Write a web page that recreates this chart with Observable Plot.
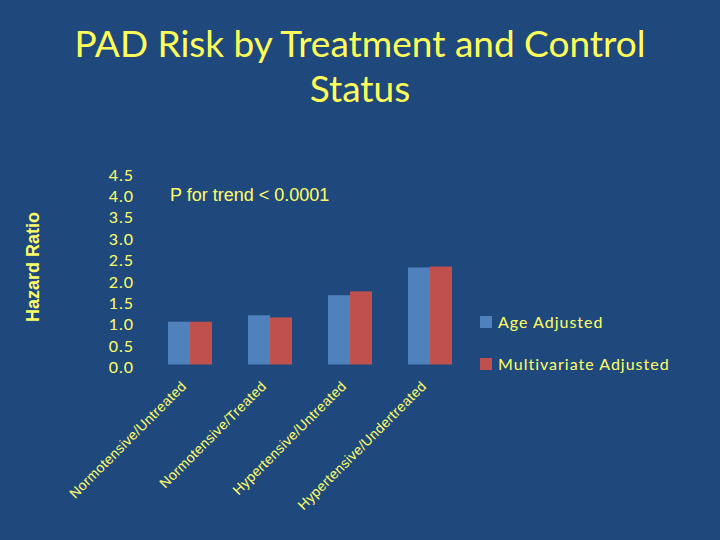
<!DOCTYPE html>
<html>
<head>
<meta charset="utf-8">
<script src="https://cdn.jsdelivr.net/npm/d3@7"></script>
<script src="https://cdn.jsdelivr.net/npm/@observablehq/plot@0.6"></script>
<style>
  html, body { margin: 0; padding: 0; background: #1F497D; }
  #wrap { position: relative; width: 720px; height: 540px; background: #1F497D; overflow: hidden; }
  #title { height: 130px; box-sizing: border-box; padding-top: 20px; text-align: center;
           color: #FFFF5A; font-family: Lato, "Open Sans", sans-serif; font-size: 37px; line-height: 45px; }
  #chart svg { display: block; }
  #chart g[aria-label="fx-axis tick label"] { font-family: Arial, "Liberation Sans", sans-serif; font-size: 14px; letter-spacing: 0.3px; }
  #chart g[aria-label="y-axis tick label"] { font-family: Lato, sans-serif; font-size: 16px; letter-spacing: 1px; }
  .abs { position: absolute; color: #FFFF66; white-space: nowrap; }
  #ptrend { left: 170px; top: 185px; font-family: Arial, "Liberation Sans", sans-serif; font-size: 18px; }
  #ylab { left: 33px; top: 267px; transform: translate(-50%, -50%) rotate(-90deg);
          font-family: Arial, "Liberation Sans", sans-serif; font-weight: bold; font-size: 18px; }
  .leg { position: absolute; left: 480px; font-family: Lato, sans-serif; font-size: 16px; letter-spacing: 1px; color: #FFFF66; display: flex; align-items: center; }
  .leg span.sw { width: 12px; height: 12px; margin-right: 6px; display: inline-block; }
</style>
</head>
<body>
<div id="wrap">
  <div id="title">PAD Risk by Treatment and Control<br>Status</div>
  <div id="chart"></div>
  <div id="ptrend" class="abs">P for trend &lt; 0.0001</div>
  <div id="ylab" class="abs">Hazard Ratio</div>
  <div id="legend"></div>
</div>
<script>
const categories = ["Normotensive/Untreated", "Normotensive/Treated", "Hypertensive/Untreated", "Hypertensive/Undertreated"];
const seriesNames = ["Age Adjusted", "Multivariate Adjusted"];
const ageAdjusted = [1.0, 1.15, 1.62, 2.27];
const multivariateAdjusted = [1.0, 1.10, 1.71, 2.29];
const yTicks = [0, 0.5, 1.0, 1.5, 2.0, 2.5, 3.0, 3.5, 4.0, 4.5];
const colors = ["#4F81BD", "#C0504D"];

const data = categories.flatMap((c, i) => [
  {cat: c, series: seriesNames[0], value: ageAdjusted[i]},
  {cat: c, series: seriesNames[1], value: multivariateAdjusted[i]}
]);

const chart = Plot.plot({
  width: 720,
  height: 410,
  marginTop: 42,
  marginBottom: 175.5,
  marginLeft: 140,
  marginRight: 240,
  style: {background: "transparent", color: "#FFFF66", overflow: "visible"},
  fx: {domain: categories, paddingInner: 0.432, paddingOuter: 0.315, label: null},
  x: {domain: seriesNames, padding: 0, axis: null},
  y: {domain: [0, 4.5], label: null},
  color: {domain: seriesNames, range: colors},
  marks: [
    Plot.barY(data, {fx: "cat", x: "series", y: "value", fill: "series"}),
    Plot.axisFx({anchor: "bottom", tickRotate: -45, tickSize: 0, tickPadding: 19, dx: -6, label: null, fill: "#FFFF66"}),
    Plot.axisY({ticks: yTicks, tickFormat: d => d.toFixed(1), tickSize: 0, tickPadding: 33.5, dy: 3, label: null, fill: "#FFFF66"})
  ]
});
document.getElementById("chart").appendChild(chart);

const legend = document.getElementById("legend");
seriesNames.forEach((s, i) => {
  const d = document.createElement("div");
  d.className = "leg";
  d.style.top = (i === 0 ? 312 : 354) + "px";
  d.innerHTML = `<span class="sw" style="background:${colors[i]}"></span>${s}`;
  legend.appendChild(d);
});
</script>
</body>
</html>
